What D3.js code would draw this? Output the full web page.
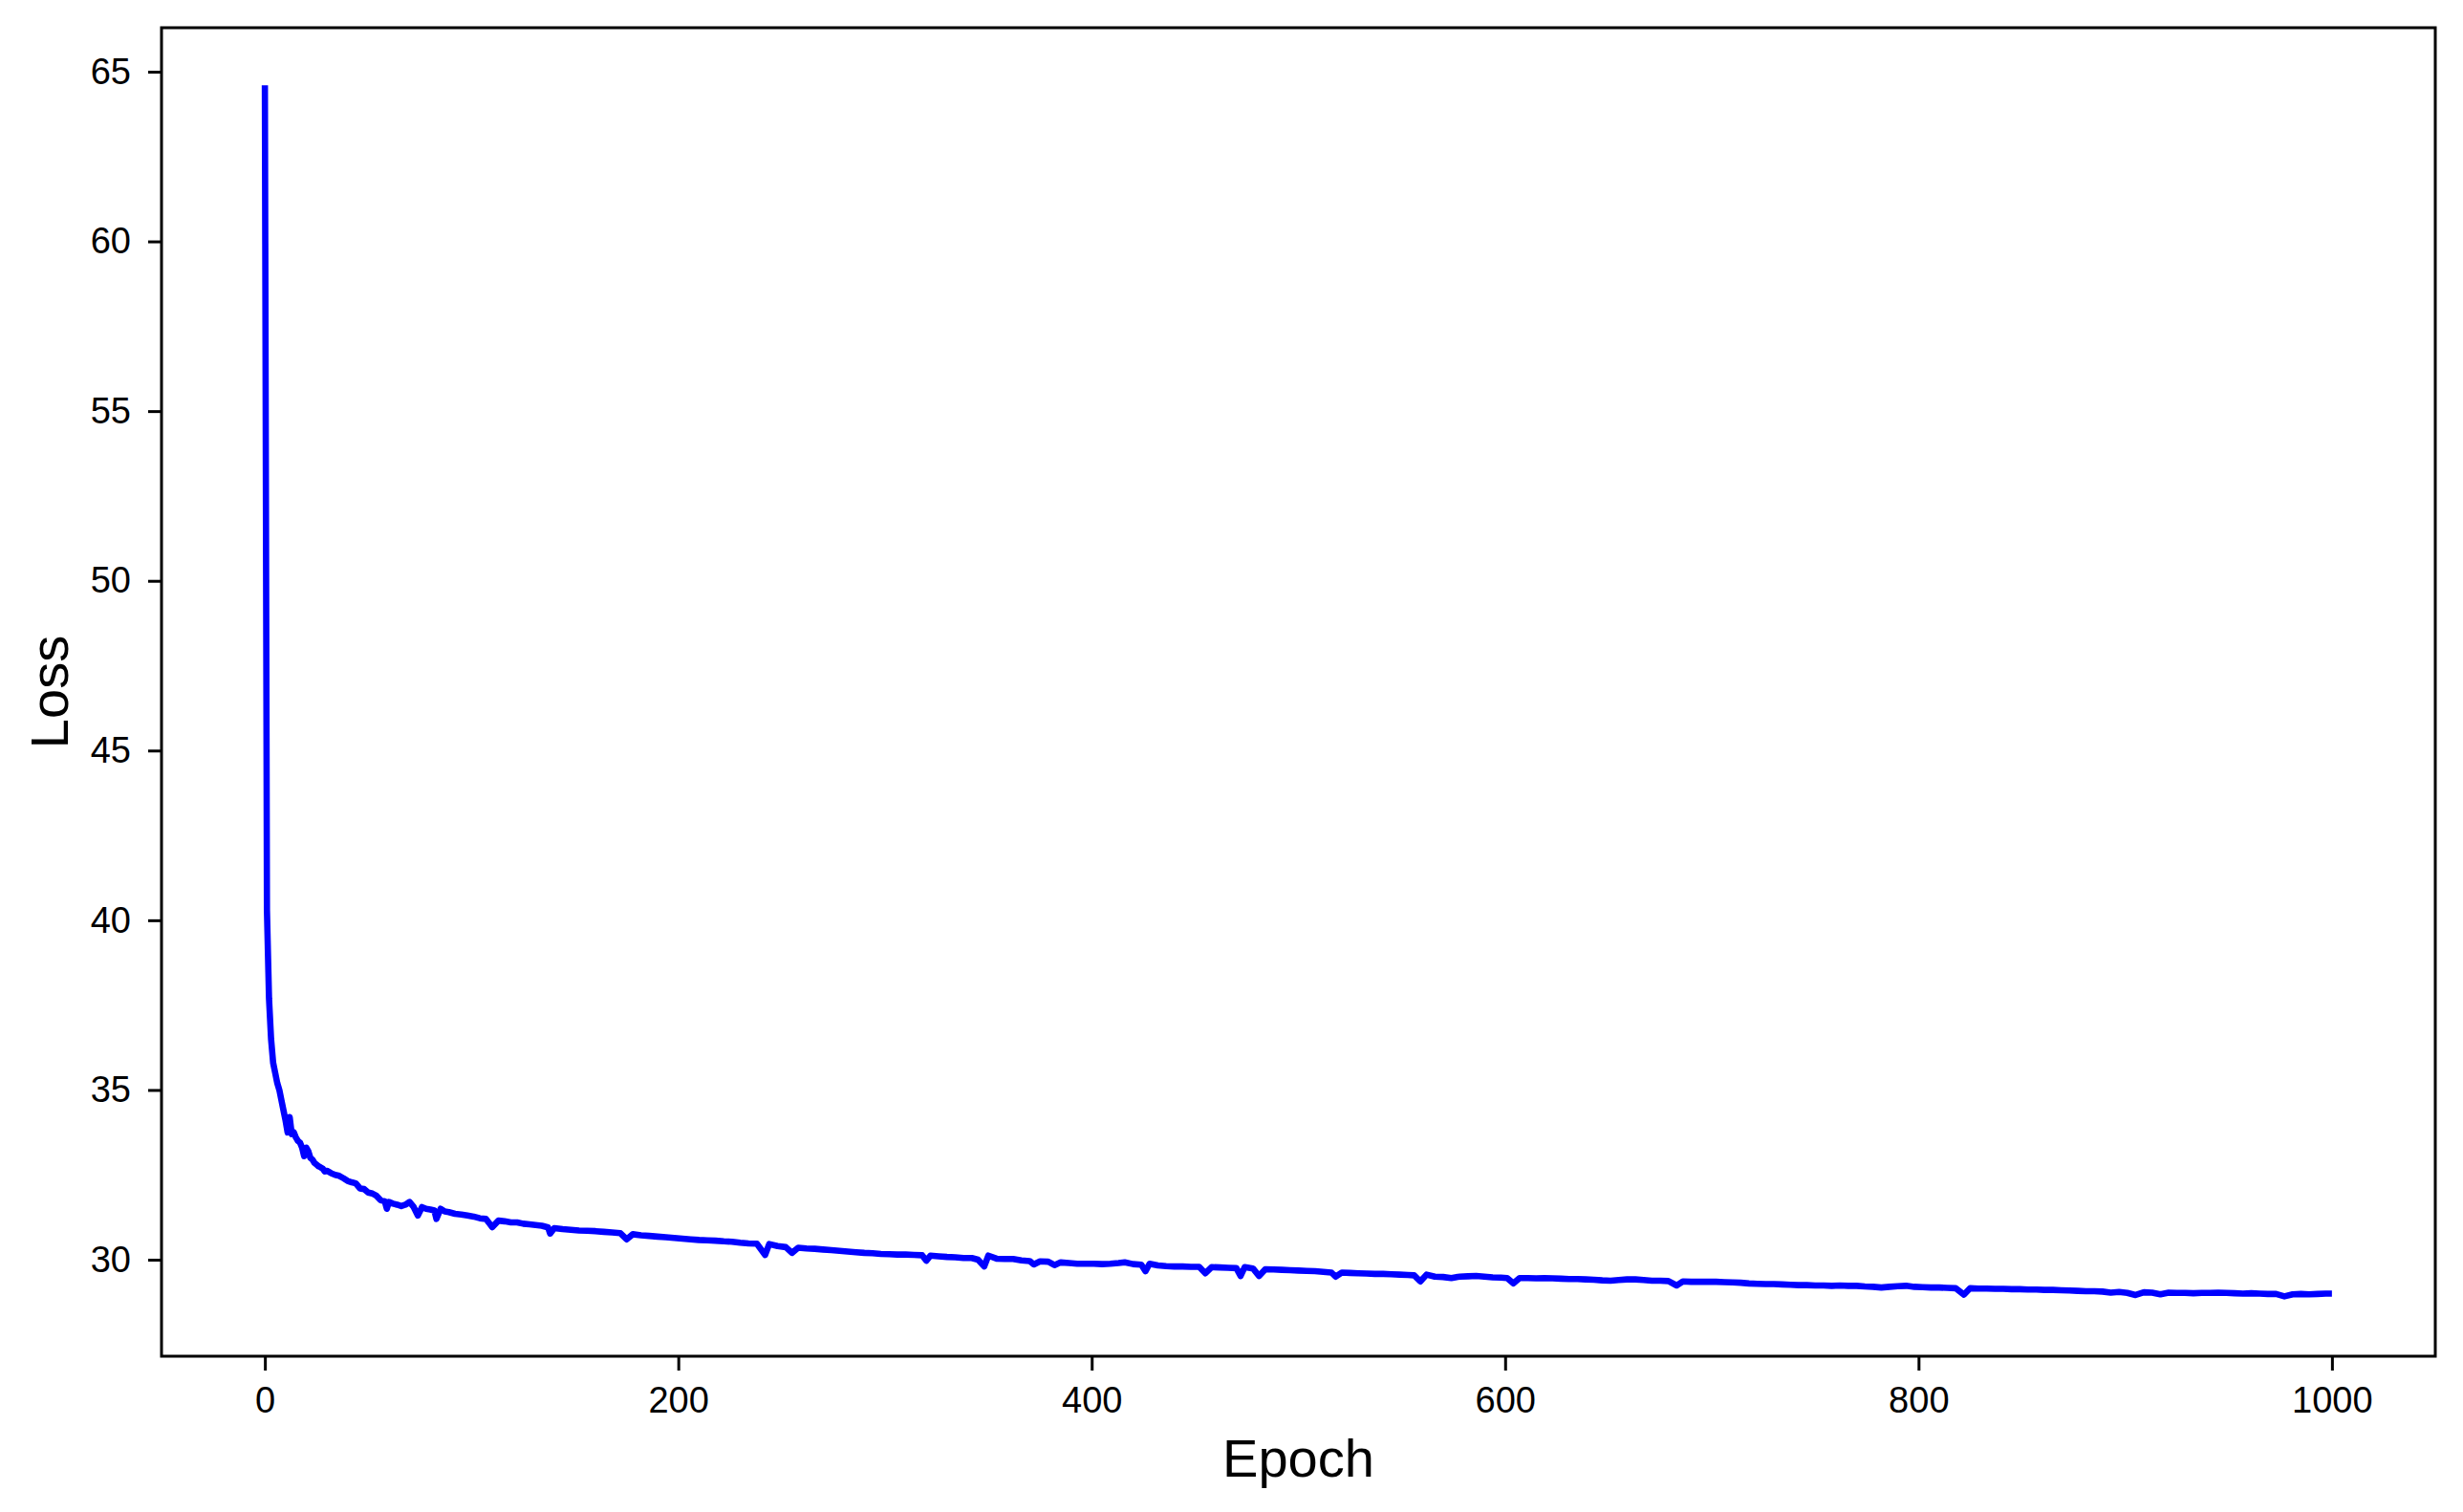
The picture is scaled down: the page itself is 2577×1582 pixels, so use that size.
<!DOCTYPE html>
<html>
<head>
<meta charset="utf-8">
<script src="https://cdn.jsdelivr.net/npm/d3@7"></script>
<style>
  body { margin: 0; background: #fff; }
  text { font-family: "Liberation Sans", Arial, sans-serif; fill: #000; }
</style>
</head>
<body>
<svg id="chart"></svg>
<script>
// ---- data: [epoch, loss]
let lossPoints = [
  [0,64.6],[1,40.3],[2,37.7],[3,36.5],[4,35.8],[5,35.5],[6,35.2],[7,35.0],[8,34.7],[9,34.4],
  [10,34.1],[11,33.75],[12,34.2],[13,33.7],[14,33.75],[15,33.6],[16,33.5],[17,33.45],[18,33.3],[19,33.05],
  [20,33.3],[21,33.2],[22,33.0],[23,32.95],[24,32.85],[25,32.8],[26,32.75],[27,32.72],[28,32.68],[29,32.6],
  [30,32.62],[32,32.55],[34,32.5],[36,32.47],[38,32.4],[40,32.32],[42,32.28],[44,32.25],[46,32.1],[48,32.08],
  [50,31.98],[52,31.95],[54,31.88],[56,31.75],[58,31.72],[59,31.5],[60,31.7],[62,31.65],[64,31.62],[66,31.58],
  [68,31.62],[70,31.7],[72,31.55],[74,31.3],[76,31.55],[78,31.5],[80,31.48],[82,31.45],[83,31.2],[85,31.5],
  [87,31.42],[89,31.4],[92,31.35],[95,31.33],[98,31.3],[101,31.27],[104,31.22],[107,31.2],[110,30.96],[113,31.15],
  [116,31.13],[119,31.1],[122,31.1],[125,31.06],[128,31.04],[131,31.02],[134,31.0],[137,30.95],[138,30.77],[140,30.93],
  [144,30.9],[148,30.88],[152,30.86],[156,30.85],[160,30.84],[164,30.82],[168,30.8],[172,30.78],[175,30.6],[178,30.75],
  [182,30.72],[186,30.7],[190,30.68],[194,30.66],[198,30.64],[202,30.62],[206,30.6],[210,30.58],[214,30.57],[218,30.56],
  [222,30.54],[226,30.53],[230,30.5],[234,30.48],[238,30.47],[242,30.14],[244,30.46],[248,30.4],[252,30.37],[255,30.2],
  [258,30.35],[262,30.33],[266,30.32],[270,30.3],[274,30.28],[278,30.26],[282,30.24],[286,30.22],[290,30.2],[294,30.19],
  [298,30.17],[302,30.16],[306,30.15],[310,30.15],[314,30.14],[318,30.13],[320,29.97],[322,30.12],[326,30.1],[330,30.08],
  [334,30.07],[338,30.05],[342,30.05],[345,30.0],[348,29.8],[350,30.12],[354,30.03],[358,30.02],[362,30.02],[366,29.98],
  [370,29.96],[372,29.86],[375,29.95],[379,29.94],[382,29.84],[385,29.92],[389,29.9],[393,29.88],[397,29.88],[401,29.88],
  [405,29.87],[409,29.88],[413,29.9],[416,29.92],[420,29.87],[424,29.85],[426,29.66],[428,29.88],[432,29.83],[436,29.81],
  [440,29.8],[444,29.8],[448,29.79],[452,29.79],[455,29.6],[458,29.78],[462,29.77],[466,29.76],[470,29.75],[472,29.52],
  [474,29.78],[478,29.74],[481,29.52],[484,29.72],[488,29.71],[492,29.7],[496,29.69],[500,29.68],[504,29.67],[508,29.66],
  [512,29.64],[516,29.62],[518,29.5],[521,29.62],[525,29.61],[529,29.6],[533,29.59],[537,29.58],[541,29.58],[545,29.57],
  [549,29.56],[553,29.55],[556,29.54],[559,29.36],[562,29.56],[566,29.5],[570,29.49],[574,29.46],[578,29.5],[582,29.51],
  [586,29.52],[590,29.5],[594,29.48],[598,29.47],[601,29.46],[604,29.3],[607,29.46],[611,29.46],[615,29.45],[619,29.46],
  [623,29.45],[627,29.44],[631,29.43],[635,29.43],[639,29.42],[643,29.41],[647,29.39],[651,29.38],[655,29.4],[659,29.42],
  [663,29.42],[667,29.4],[671,29.38],[675,29.38],[679,29.37],[683,29.24],[686,29.36],[690,29.35],[694,29.35],[698,29.35],
  [702,29.35],[706,29.34],[710,29.33],[714,29.32],[718,29.3],[722,29.29],[726,29.28],[730,29.28],[734,29.27],[738,29.26],
  [742,29.25],[746,29.25],[750,29.24],[754,29.24],[758,29.23],[762,29.24],[766,29.23],[770,29.23],[774,29.21],[778,29.2],
  [782,29.18],[786,29.2],[790,29.22],[794,29.23],[798,29.2],[802,29.19],[806,29.18],[810,29.18],[814,29.17],[818,29.16],
  [822,28.97],[825,29.16],[829,29.15],[833,29.15],[837,29.14],[841,29.14],[845,29.13],[849,29.13],[853,29.12],[857,29.12],
  [861,29.11],[865,29.11],[869,29.1],[873,29.09],[877,29.08],[881,29.07],[885,29.07],[889,29.06],[893,29.03],[897,29.05],
  [901,29.02],[905,28.96],[909,29.04],[913,29.03],[917,28.98],[921,29.03],[925,29.02],[929,29.02],[933,29.01],[937,29.02],
  [941,29.02],[945,29.03],[949,29.02],[953,29.01],[957,29.0],[961,29.01],[965,29.0],[969,28.99],[973,28.99],[977,28.92],
  [981,28.98],[985,28.99],[989,28.98],[993,28.99],[997,29.0],[1000,29.0]
]

let xTicks = [0, 200, 400, 600, 800, 1000]
let yTicks = [30, 35, 40, 45, 50, 55, 60, 65]
let xLabel = 'Epoch'
let yLabel = 'Loss'

// ---- layout
let W = 2577, H = 1582
let mLeft = 169, mRight = 2548, mTop = 29, mBottom = 1419

let svg = d3.select('#chart').attr('width', W).attr('height', H)

let x = d3.scaleLinear().domain([-50, 1050]).range([mLeft, mRight])
let y = d3.scaleLinear().domain([27.156, 66.295]).range([mBottom, mTop])

// line
let line = d3.line().x(d => x(d[0])).y(d => y(d[1]))

svg.append('path')
  .datum(lossPoints)
  .attr('d', line)
  .attr('fill', 'none')
  .attr('stroke', '#0000ff')
  .attr('stroke-width', 6.6)
  .attr('stroke-linejoin', 'round')
  .attr('stroke-linecap', 'butt')

// axes
let xAxis = svg.append('g')
  .attr('transform', `translate(0,${mBottom})`)
  .call(d3.axisBottom(x).tickValues(xTicks).tickSize(15).tickPadding(17).tickFormat(d3.format('d')))

let yAxis = svg.append('g')
  .attr('transform', `translate(${mLeft},0)`)
  .call(d3.axisLeft(y).tickValues(yTicks).tickSize(14).tickPadding(18).tickFormat(d3.format('d')))

;[xAxis, yAxis].forEach(g => {
  g.select('.domain').remove()
  g.selectAll('line').attr('stroke', '#000').attr('stroke-width', 3)
  g.selectAll('text').attr('font-size', 38).attr('font-family', '"Liberation Sans", Arial, sans-serif').attr('fill', '#000')
})
xAxis.selectAll('text').attr('dy', '0.71em')

// frame
svg.append('rect')
  .attr('x', mLeft).attr('y', mTop)
  .attr('width', mRight - mLeft).attr('height', mBottom - mTop)
  .attr('fill', 'none')
  .attr('stroke', '#000')
  .attr('stroke-width', 3)

// axis labels
svg.append('text')
  .attr('x', (mLeft + mRight) / 2)
  .attr('y', 1545)
  .attr('text-anchor', 'middle')
  .attr('font-size', 56)
  .text(xLabel)

svg.append('text')
  .attr('transform', `translate(71,${(mTop + mBottom) / 2}) rotate(-90)`)
  .attr('text-anchor', 'middle')
  .attr('font-size', 56)
  .text(yLabel)
</script>
</body>
</html>
